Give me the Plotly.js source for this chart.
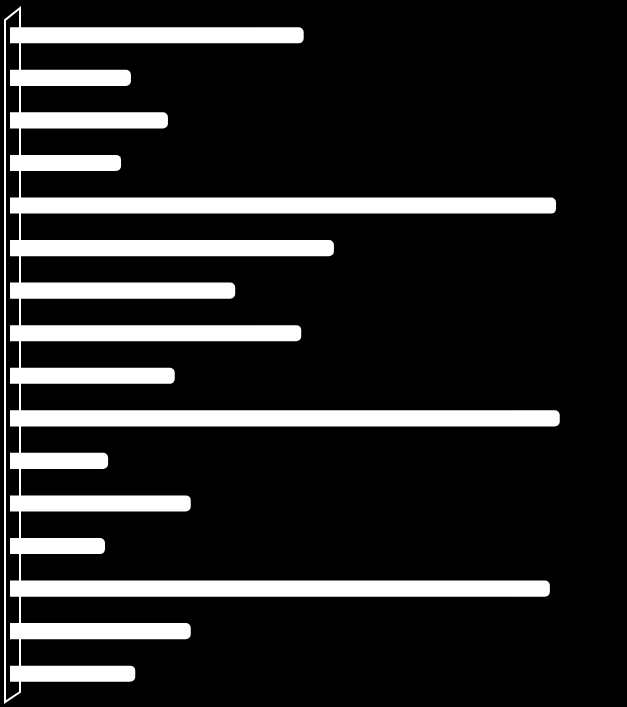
<!DOCTYPE html>
<html>
<head>
<meta charset="utf-8">
<script src="https://cdn.plot.ly/plotly-3.0.1.min.js"></script>
<style>
  html, body { margin: 0; padding: 0; background: #000; }
  #chart { width: 627px; height: 707px; }
</style>
</head>
<body>
<div id="chart"></div>
<script>
// categories top to bottom (no labels are shown in the picture)
const categories = ['1', '2', '3', '4', '5', '6', '7', '8',
  '9', '10', '11', '12', '13', '14', '15', '16']
// bar lengths (0-100 scale)
const values = [47.6, 19.6, 25.6, 18.0, 88.5, 52.5, 36.5, 47.2,
  26.7, 89.1, 15.9, 29.3, 15.4, 87.5, 29.3, 20.3]

const trace = {
  type: 'bar',
  orientation: 'h',
  x: values,
  y: categories,
  marker: { color: '#ffffff', cornerradius: 5, line: { width: 0 } },
  hoverinfo: 'x'
}

// the slanted "wall" on the left side of the plot
const wall = {
  type: 'path',
  xref: 'paper',
  yref: 'paper',
  layer: 'below',
  path: 'M -0.0081,0.991 L 0.0162,1.0088 L 0.0162,0.0044 L -0.0081,-0.0103 Z',
  line: { color: '#ffffff', width: 2 },
  fillcolor: 'rgba(0,0,0,0)'
}

const layout = {
  width: 627,
  height: 707,
  paper_bgcolor: '#000000',
  plot_bgcolor: '#000000',
  margin: { l: 10, r: 0, t: 14, b: 12 },
  showlegend: false,
  bargap: 0.62,
  xaxis: {
    range: [0, 100],
    visible: false,
    fixedrange: true
  },
  yaxis: {
    autorange: 'reversed',
    showticklabels: false,
    showgrid: false,
    zeroline: false,
    showline: false,
    ticks: '',
    fixedrange: true
  },
  shapes: [wall]
}

Plotly.newPlot('chart', [trace], layout, { displayModeBar: false, staticPlot: true })
</script>
</body>
</html>
